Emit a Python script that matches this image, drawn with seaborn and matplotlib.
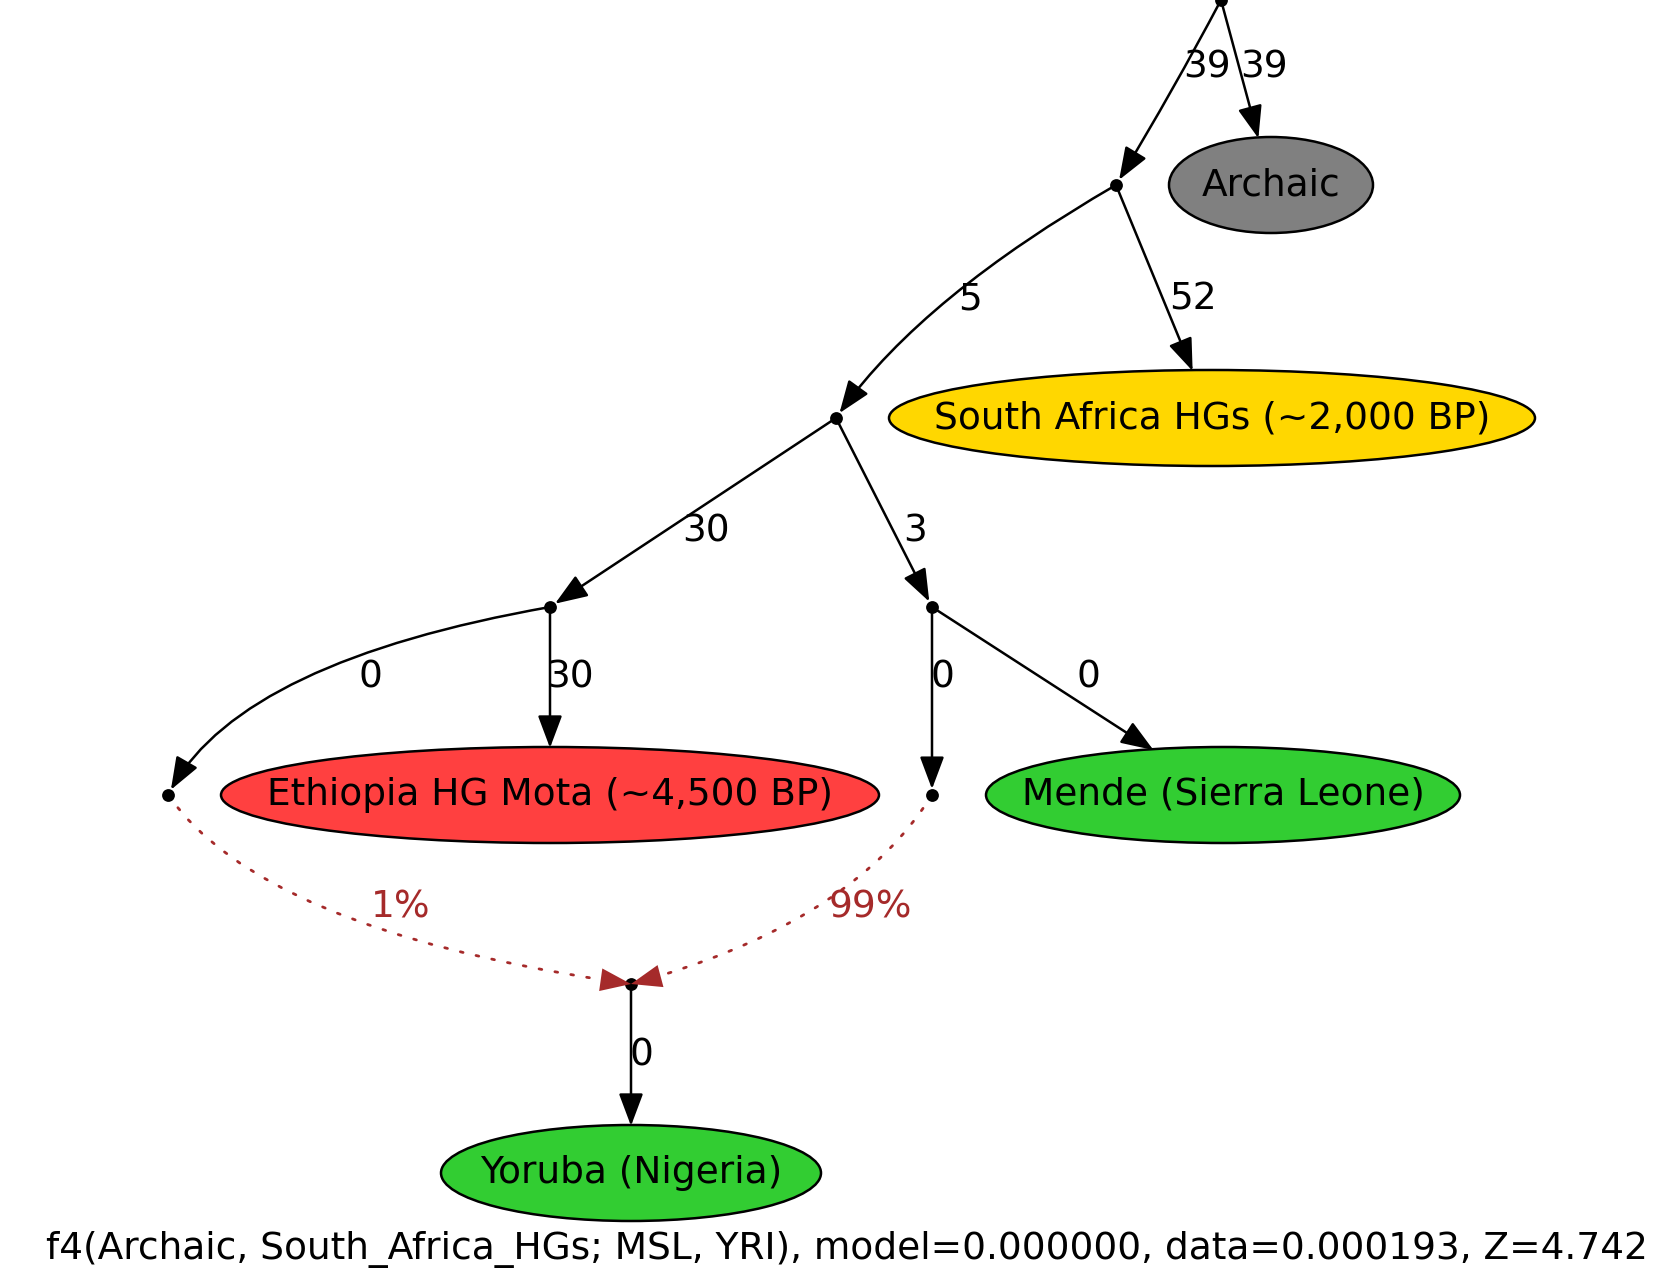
import numpy as np
import pandas as pd
import seaborn as sns
import matplotlib
matplotlib.use("Agg")
import matplotlib.pyplot as plt
from matplotlib.patches import Ellipse, FancyArrowPatch, ArrowStyle

# ---------------- data ----------------
leaf_ids = ["Archaic", "SA", "Eth", "Mende", "Yoruba"]
leaf_labels = ["Archaic", "South Africa HGs (~2,000 BP)", "Ethiopia HG Mota (~4,500 BP)",
               "Mende (Sierra Leone)", "Yoruba (Nigeria)"]
leaf_colors = ["#808080", "#FFD700", "#FF4040", "#32CD32", "#32CD32"]
inner_ids = ["root", "n1", "n2", "n3", "n4", "n5", "n6", "n7"]

drift_src = ["root", "root", "n1", "n1", "n2", "n2", "n3", "n3", "n4", "n4", "n7"]
drift_dst = ["n1", "Archaic", "n2", "SA", "n3", "n4", "n5", "Eth", "n6", "Mende", "Yoruba"]
drift_vals = [39, 39, 5, 52, 30, 3, 0, 30, 0, 0, 0]

admix_src = ["n5", "n6"]
admix_dst = ["n7", "n7"]
admix_pct = [1, 99]

caption = "f4(Archaic, South_Africa_HGs; MSL, YRI), model=0.000000, data=0.000193, Z=4.742"

# ---------------- layout (pixel positions of the graph drawing) ----------------
W, H = 1672, 1287
pos = {
    "root": (1221, 0), "n1": (1116, 185), "n2": (836, 418),
    "n3": (550, 607), "n4": (932, 607), "n5": (168, 795),
    "n6": (932, 795), "n7": (631, 984),
    "Archaic": (1271, 185), "SA": (1212, 418), "Eth": (550, 795),
    "Mende": (1223, 795), "Yoruba": (631, 1173),
}
half_w = {"Archaic": 102, "SA": 323, "Eth": 329, "Mende": 237, "Yoruba": 190}
half_h = 48
drift_conn = ["arc3,rad=-0.015", "arc3,rad=0", "angle3,angleA=30,angleB=55", "arc3,rad=0",
              "arc3,rad=0", "arc3,rad=0", "angle3,angleA=10,angleB=62", "arc3,rad=0",
              "arc3,rad=0", "arc3,rad=0", "arc3,rad=0"]
drift_label_pos = [(1207, 67), (1264, 67), (970, 300), (1193, 300), (706, 531), (915, 531),
                   (370, 677), (570, 677), (942, 677), (1088, 677), (641, 1056)]
admix_conn = ["angle3,angleA=-55,angleB=-8", "angle3,angleA=58,angleB=15"]
admix_label_pos = [(401, 908), (870, 908)]

FS = 27
LW = 1.8
BROWN = "#A52A2A"

sns.set_theme(style="white")
plt.rcParams["font.family"] = ["DejaVu Sans"]

fig = plt.figure(figsize=(W / 100, H / 100), dpi=100)
ax = fig.add_axes([0, 0, 1, 1])

# inner point nodes via seaborn
df_pts = pd.DataFrame({"x": [pos[n][0] for n in inner_ids], "y": [pos[n][1] for n in inner_ids]})
sns.scatterplot(data=df_pts, x="x", y="y", ax=ax, color="black", s=85, edgecolor="black",
                linewidth=0, zorder=5, legend=False)
ax.set_xlim(0, W)
ax.set_ylim(H, 0)
ax.axis("off")

# leaf ellipses
patches = {}
for lid, lab, col in zip(leaf_ids, leaf_labels, leaf_colors):
    x, y = pos[lid]
    e = Ellipse((x, y), 2 * half_w[lid], 2 * half_h, facecolor=col, edgecolor="black",
                lw=LW, zorder=3)
    ax.add_patch(e)
    patches[lid] = e
    ax.text(x, y, lab, ha="center", va="center", fontsize=FS, color="black", zorder=4)

head = ArrowStyle("-|>", head_length=20, head_width=7.5)
admix_head = ArrowStyle("-|>", head_length=22, head_width=8.2)

def draw_edge(s, d, conn, color, dotted=False):
    pb = patches.get(d)
    if dotted:
        line = FancyArrowPatch(pos[s], pos[d], arrowstyle="-", mutation_scale=1,
                               connectionstyle=conn, patchB=pb, shrinkA=0, shrinkB=20,
                               color=color, lw=2.0, linestyle=(0, (1, 4.8)), zorder=2)
        ax.add_patch(line)
        tip = FancyArrowPatch(pos[s], pos[d], arrowstyle=admix_head, mutation_scale=1,
                              connectionstyle=conn, patchB=pb, shrinkA=0, shrinkB=0,
                              color=color, lw=0, zorder=6)
        ax.add_patch(tip)
    else:
        sb = 0 if pb is not None else 4.3
        arr = FancyArrowPatch(pos[s], pos[d], arrowstyle=head, mutation_scale=1,
                              connectionstyle=conn, patchB=pb, shrinkA=0, shrinkB=sb,
                              color=color, lw=LW, zorder=2)
        ax.add_patch(arr)

for s, d, v, c, lp in zip(drift_src, drift_dst, drift_vals, drift_conn, drift_label_pos):
    draw_edge(s, d, c, "black")
    ax.text(lp[0], lp[1], str(v), ha="center", va="center", fontsize=FS, color="black", zorder=4)

for s, d, p, c, lp in zip(admix_src, admix_dst, admix_pct, admix_conn, admix_label_pos):
    draw_edge(s, d, c, BROWN, dotted=True)
    ax.text(lp[0], lp[1], f"{p}%", ha="center", va="center", fontsize=FS, color=BROWN, zorder=4)

ax.text(847, 1250, caption, ha="center", va="center", fontsize=FS, color="black")

fig.savefig("out.png", dpi=100)
